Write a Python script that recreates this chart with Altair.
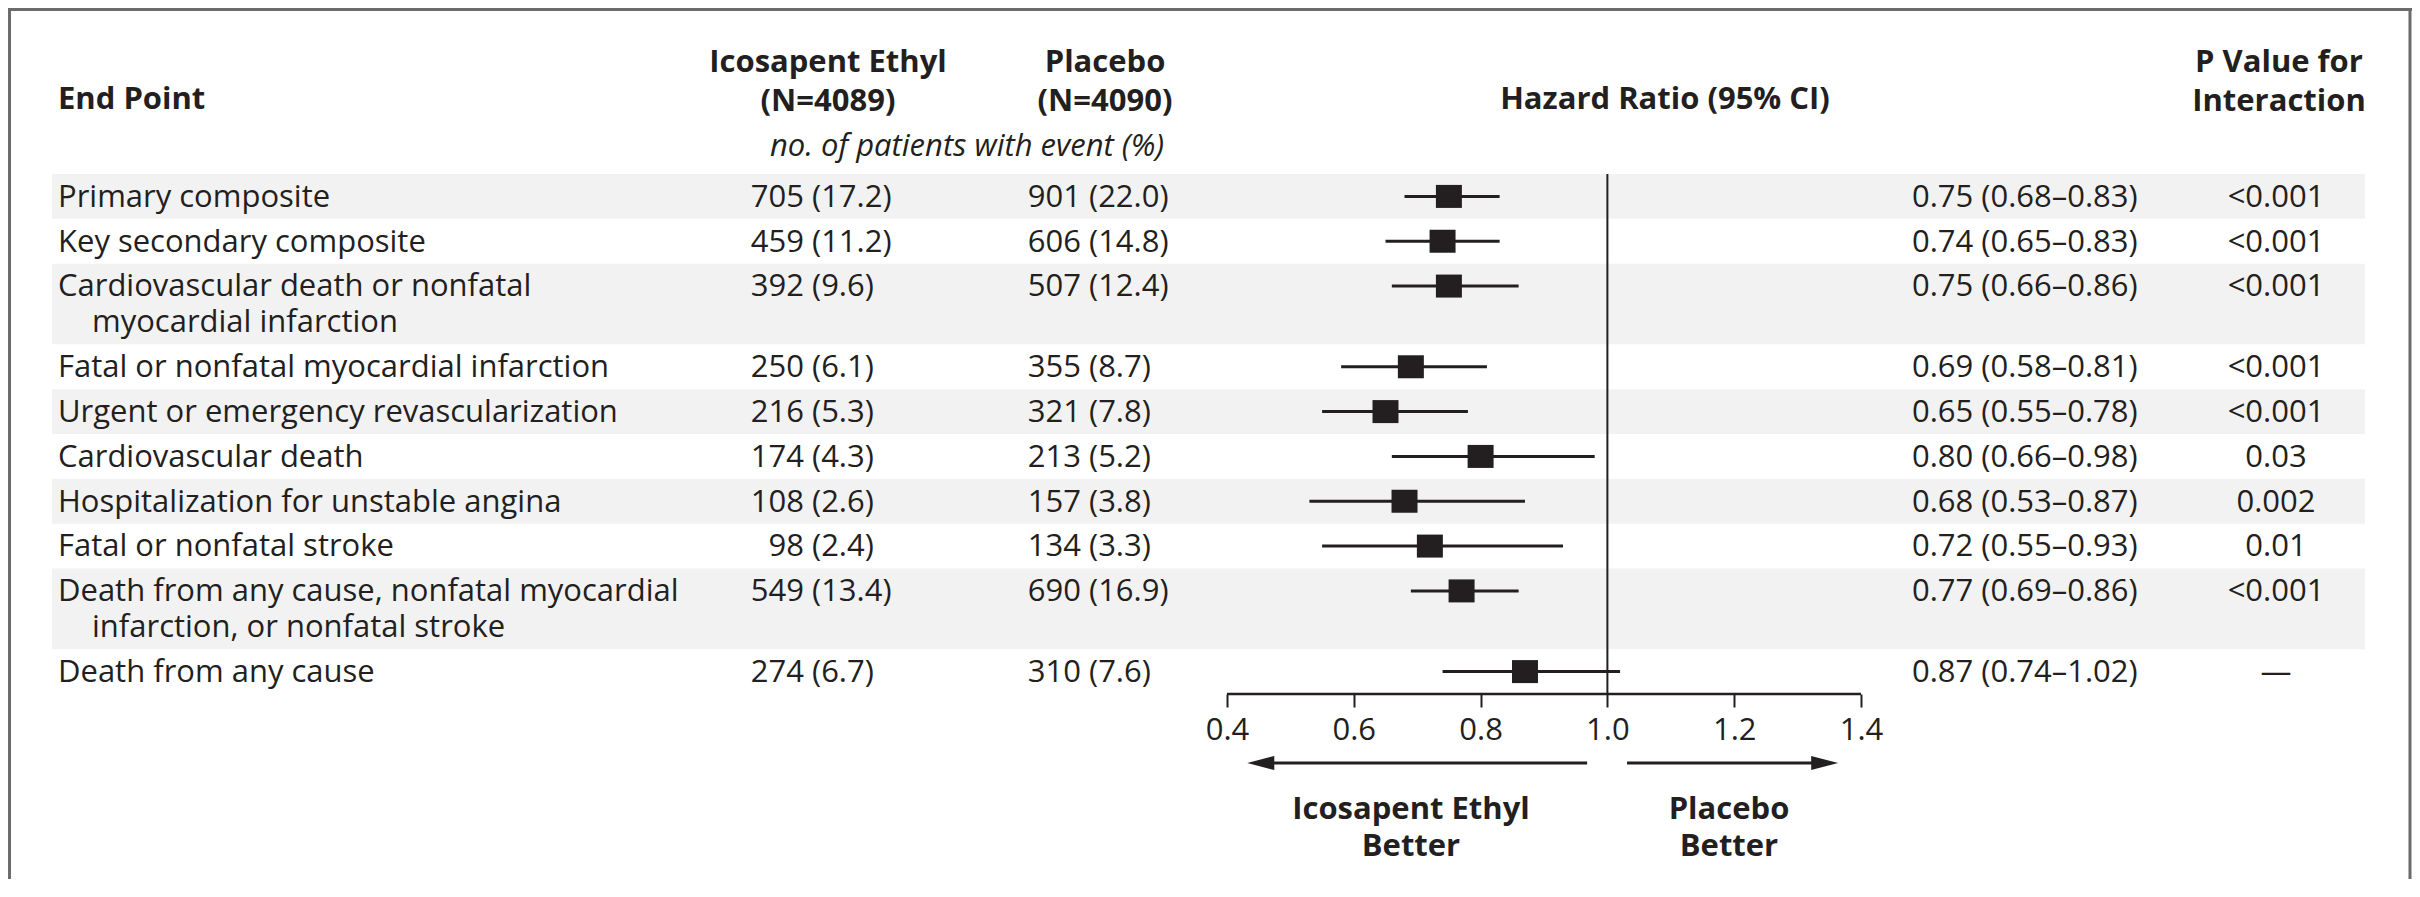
import altair as alt
import pandas as pd

# ---------------- data ----------------
ENDPOINTS = [
    ["Primary composite"],
    ["Key secondary composite"],
    ["Cardiovascular death or nonfatal", "myocardial infarction"],
    ["Fatal or nonfatal myocardial infarction"],
    ["Urgent or emergency revascularization"],
    ["Cardiovascular death"],
    ["Hospitalization for unstable angina"],
    ["Fatal or nonfatal stroke"],
    ["Death from any cause, nonfatal myocardial", "infarction, or nonfatal stroke"],
    ["Death from any cause"],
]
ICE_N = [705, 459, 392, 250, 216, 174, 108, 98, 549, 274]
ICE_PCT = [17.2, 11.2, 9.6, 6.1, 5.3, 4.3, 2.6, 2.4, 13.4, 6.7]
PLA_N = [901, 606, 507, 355, 321, 213, 157, 134, 690, 310]
PLA_PCT = [22.0, 14.8, 12.4, 8.7, 7.8, 5.2, 3.8, 3.3, 16.9, 7.6]
HR = [0.75, 0.74, 0.75, 0.69, 0.65, 0.80, 0.68, 0.72, 0.77, 0.87]
HR_LO = [0.68, 0.65, 0.66, 0.58, 0.55, 0.66, 0.53, 0.55, 0.69, 0.74]
HR_HI = [0.83, 0.83, 0.86, 0.81, 0.78, 0.98, 0.87, 0.93, 0.86, 1.02]
P_INTERACTION = ["<0.001", "<0.001", "<0.001", "<0.001", "<0.001", "0.03", "0.002", "0.01", "<0.001", "\u2014"]
TICKS = [0.4, 0.6, 0.8, 1.0, 1.2, 1.4]

HEAD_ENDPOINT = "End Point"
HEAD_ICE = ["Icosapent Ethyl", "(N=4089)"]
HEAD_PLA = ["Placebo", "(N=4090)"]
HEAD_SUB = "no. of patients with event (%)"
HEAD_HR = "Hazard Ratio (95% CI)"
HEAD_P = ["P Value for", "Interaction"]
FAVOR_LEFT = ["Icosapent Ethyl", "Better"]
FAVOR_RIGHT = ["Placebo", "Better"]

# ---------------- style / layout ----------------
FONT = "Open Sans"
INK = "#231f20"
BAND = "#f2f2f2"
FRAME = "#6b6b6b"
FS = 31

W = 2404            # plot width (whole svg width)
ROW_PX = 44.83      # height of a one-line row
LINE_STEP = 0.8     # extra height per extra text line (in row units)
PAD_TOP, PAD_BOTTOM = 166, 185
PX_PER_UNIT = 634   # hazard-ratio scale
X_AT_FIRST_TICK = 1219
X_DOMAIN = [TICKS[0] - X_AT_FIRST_TICK / PX_PER_UNIT,
            TICKS[0] + (W - X_AT_FIRST_TICK) / PX_PER_UNIT]
ICE_X, PLA_X = 743, 1020          # left edge of the 3-digit counts
NUM_W, GAP = 53, 8                # width of a 3-digit count, space before "("

# ---------------- tables ----------------
rows, lines = [], []
top = 0.0
for i, lab in enumerate(ENDPOINTS):
    h = 1 + LINE_STEP * (len(lab) - 1)
    rows.append(dict(
        row=i, top=top, bottom=top + h, ymark=top + 0.5, ytext=top + 0.53,
        band=(i % 2 == 0),
        ice_n=str(ICE_N[i]), ice_p=f"({ICE_PCT[i]:.1f})",
        pla_n=str(PLA_N[i]), pla_p=f"({PLA_PCT[i]:.1f})",
        hr=HR[i], lo=HR_LO[i], hi=HR_HI[i],
        hrtxt=f"{HR[i]:.2f} ({HR_LO[i]:.2f}\u2013{HR_HI[i]:.2f})",
        p=P_INTERACTION[i],
    ))
    for j, t in enumerate(lab):
        lines.append(dict(row=i, j=j, text=t, y=top + 0.53 + LINE_STEP * j))
    top += h
TOTAL = top
H = TOTAL * ROW_PX

rows_df = pd.DataFrame(rows)
lines_df = pd.DataFrame(lines)
ONE = pd.DataFrame({"_": [0]})

yscale = alt.Scale(domain=[0, TOTAL], reverse=True, nice=False, zero=False)
xscale = alt.Scale(domain=X_DOMAIN, nice=False, zero=False)
xaxis = alt.Axis(values=TICKS, format=".1f", domain=False, grid=False, ticks=True,
                 tickSize=13, tickWidth=2, tickColor=INK, labelFont=FONT,
                 labelFontSize=FS, labelColor=INK, labelPadding=8, title=None,
                 labelFlush=False)


def Y(field):
    return alt.Y(f"{field}:Q", scale=yscale, axis=None)


def X(field):
    return alt.X(f"{field}:Q", scale=xscale, axis=xaxis)


def label(txt, x, y, size=FS, weight="normal", align="center", style="normal"):
    return alt.Chart(ONE).mark_text(
        text=txt, font=FONT, fontSize=size, fontWeight=weight, fontStyle=style,
        align=align, baseline="middle", color=INK
    ).encode(x=alt.value(x), y=alt.value(y))


base = alt.Chart(rows_df)

bands = base.transform_filter("datum.band").mark_rect(color=BAND).encode(
    x=alt.value(44), x2=alt.value(2357), y=Y("top"), y2="bottom")

refline = alt.Chart(ONE).mark_rule(color=INK, strokeWidth=2).encode(
    x=alt.X(datum=1.0, scale=xscale, axis=xaxis), y=alt.value(0), y2=alt.value(H))

ci = base.mark_rule(color=INK, strokeWidth=3).encode(x=X("lo"), x2="hi", y=Y("ymark"))

squares = base.mark_point(
    shape="M -1.13 -1 L 1.13 -1 L 1.13 1 L -1.13 1 Z", filled=True, opacity=1,
    size=529, color=INK, strokeWidth=0
).encode(x=X("hr"), y=Y("ymark"))

axisline = alt.Chart(ONE).mark_rule(color=INK, strokeWidth=2.5).encode(
    x=alt.X(datum=TICKS[0], scale=xscale, axis=xaxis), x2=alt.datum(TICKS[-1]),
    y=alt.value(H))

txt_kw = dict(font=FONT, fontSize=FS, color=INK, baseline="middle")
first_lines = alt.Chart(lines_df).transform_filter("datum.j == 0").mark_text(
    align="left", **txt_kw).encode(x=alt.value(50), y=Y("y"), text="text:N")
cont_lines = alt.Chart(lines_df).transform_filter("datum.j > 0").mark_text(
    align="left", **txt_kw).encode(x=alt.value(84), y=Y("y"), text="text:N")
count_cols = []
for x0, ncol, pcol in [(ICE_X, "ice_n", "ice_p"), (PLA_X, "pla_n", "pla_p")]:
    count_cols.append(base.mark_text(align="right", **txt_kw).encode(
        x=alt.value(x0 + NUM_W), y=Y("ytext"), text=f"{ncol}:N"))
    count_cols.append(base.mark_text(align="left", **txt_kw).encode(
        x=alt.value(x0 + NUM_W + GAP), y=Y("ytext"), text=f"{pcol}:N"))
hr_txt = base.mark_text(align="left", **txt_kw).encode(
    x=alt.value(1904), y=Y("ytext"), text="hrtxt:N")
p_txt = base.mark_text(align="center", **txt_kw).encode(
    x=alt.value(2268), y=Y("ytext"), text="p:N")

headers = [
    label(HEAD_ENDPOINT, 50, -74, weight="bold", align="left"),
    label(HEAD_ICE[0], 820, -111, weight="bold"),
    label(HEAD_ICE[1], 820, -72, weight="bold"),
    label(HEAD_PLA[0], 1097, -111, weight="bold"),
    label(HEAD_PLA[1], 1097, -72, weight="bold"),
    label(HEAD_SUB, 959, -27, size=31, style="italic"),
    label(HEAD_HR, 1657, -74, weight="bold"),
    label(HEAD_P[0], 2271, -111, weight="bold"),
    label(HEAD_P[1], 2271, -72, weight="bold"),
    label(FAVOR_LEFT[0], 1403, H + 116, weight="bold"),
    label(FAVOR_LEFT[1], 1403, H + 153, weight="bold"),
    label(FAVOR_RIGHT[0], 1721, H + 116, weight="bold"),
    label(FAVOR_RIGHT[1], 1721, H + 153, weight="bold"),
]

# direction arrows under the axis
ARROW_Y = H + 69
HEAD_LEN = 27 / PX_PER_UNIT
arrows = []
for tail, tip, path in [
    (0.968, 0.432, "M -1 0 L 1 -0.52 L 1 0.52 Z"),
    (1.031, 1.364, "M 1 0 L -1 -0.52 L -1 0.52 Z"),
]:
    sgn = 1 if tip > tail else -1
    arrows.append(alt.Chart(ONE).mark_rule(color=INK, strokeWidth=3).encode(
        x=alt.X(datum=tail, scale=xscale, axis=xaxis),
        x2=alt.datum(tip - sgn * HEAD_LEN / 2), y=alt.value(ARROW_Y)))
    arrows.append(alt.Chart(ONE).mark_point(
        shape=path, filled=True, opacity=1, size=729, color=INK, strokeWidth=0
    ).encode(x=alt.X(datum=tip - sgn * HEAD_LEN / 2, scale=xscale, axis=xaxis),
             y=alt.value(ARROW_Y)))

# outer frame (left, top, right)
frame = [
    alt.Chart(ONE).mark_rule(color=FRAME, strokeWidth=3).encode(
        x=alt.value(1.5), y=alt.value(-PAD_TOP), y2=alt.value(H + PAD_BOTTOM)),
    alt.Chart(ONE).mark_rule(color=FRAME, strokeWidth=3).encode(
        x=alt.value(0), x2=alt.value(W), y=alt.value(-PAD_TOP + 1.5)),
    alt.Chart(ONE).mark_rule(color=FRAME, strokeWidth=3).encode(
        x=alt.value(W - 2), y=alt.value(-PAD_TOP), y2=alt.value(H + PAD_BOTTOM)),
]

chart = alt.layer(
    bands, refline, ci, squares, axisline,
    first_lines, cont_lines, *count_cols, hr_txt, p_txt,
    *headers, *arrows, *frame,
).properties(
    width=W, height=H,
    padding={"left": 0, "top": PAD_TOP, "right": 0, "bottom": PAD_BOTTOM},
    autosize=alt.AutoSizeParams(type="none"),
    background="white",
).configure_view(stroke=None)

chart.save("out.html", embed_options={"renderer": "svg", "actions": False})
